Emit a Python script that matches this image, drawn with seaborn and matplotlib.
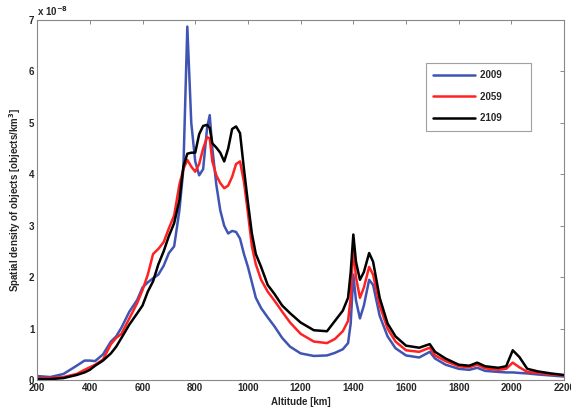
import numpy as np
import pandas as pd
import seaborn as sns
import matplotlib.pyplot as plt

# === Data (spatial density in units of 1e-8 objects/km^3) ===
altitude = [200, 250, 300, 350, 380, 400, 420, 450, 480, 500, 520, 550, 580, 600,
            620, 640, 660, 680, 700, 720, 740, 755, 770, 785, 800, 815, 830, 845,
            855, 865, 880, 895, 910, 925, 940, 955, 970, 985, 1000, 1015, 1030,
            1050, 1075, 1100, 1130, 1160, 1200, 1250, 1300, 1330, 1360, 1380,
            1390, 1400, 1410, 1425, 1440, 1460, 1475, 1500, 1530, 1560, 1600,
            1650, 1690, 1710, 1750, 1800, 1840, 1870, 1900, 1950, 1980, 2005,
            2030, 2060, 2100, 2150, 2200]

density_2009 = [0.08, 0.06, 0.12, 0.28, 0.38, 0.38, 0.37, 0.50, 0.75, 0.85, 1.02,
                1.33, 1.56, 1.80, 1.90, 1.98, 2.05, 2.22, 2.47, 2.60, 3.30, 4.10,
                6.87, 5.00, 4.25, 3.98, 4.10, 4.90, 5.15, 4.50, 3.80, 3.30, 3.00,
                2.85, 2.90, 2.88, 2.75, 2.45, 2.20, 1.90, 1.60, 1.40, 1.22, 1.05,
                0.82, 0.65, 0.52, 0.47, 0.48, 0.53, 0.60, 0.72, 1.10, 2.05, 1.55,
                1.20, 1.45, 1.95, 1.85, 1.25, 0.85, 0.62, 0.48, 0.44, 0.55, 0.42,
                0.30, 0.22, 0.20, 0.24, 0.18, 0.16, 0.15, 0.15, 0.14, 0.13, 0.11,
                0.09, 0.07]

density_2059 = [0.04, 0.04, 0.06, 0.12, 0.20, 0.25, 0.30, 0.40, 0.70, 0.82, 0.90,
                1.20, 1.50, 1.75, 2.05, 2.45, 2.55, 2.68, 2.95, 3.20, 3.80, 4.10,
                4.28, 4.15, 4.05, 4.20, 4.50, 4.72, 4.70, 4.25, 3.98, 3.83, 3.73,
                3.78, 3.95, 4.20, 4.25, 3.85, 3.25, 2.60, 2.25, 1.95, 1.72, 1.55,
                1.33, 1.12, 0.90, 0.75, 0.72, 0.80, 0.95, 1.15, 1.60, 2.60, 2.00,
                1.60, 1.80, 2.20, 2.05, 1.45, 1.00, 0.75, 0.58, 0.55, 0.63, 0.48,
                0.37, 0.27, 0.25, 0.30, 0.23, 0.20, 0.22, 0.34, 0.25, 0.16, 0.14,
                0.11, 0.09]

density_2109 = [0.02, 0.02, 0.04, 0.10, 0.15, 0.20, 0.28, 0.38, 0.52, 0.65, 0.82,
                1.08, 1.30, 1.45, 1.72, 1.92, 2.25, 2.50, 2.80, 3.05, 3.50, 4.15,
                4.40, 4.42, 4.42, 4.78, 4.94, 4.96, 4.90, 4.60, 4.52, 4.42, 4.25,
                4.50, 4.88, 4.93, 4.80, 4.10, 3.45, 2.85, 2.45, 2.20, 1.85, 1.68,
                1.45, 1.30, 1.12, 0.97, 0.95, 1.15, 1.35, 1.60, 2.10, 2.83, 2.30,
                1.95, 2.10, 2.47, 2.30, 1.60, 1.10, 0.85, 0.67, 0.63, 0.70, 0.55,
                0.42, 0.30, 0.28, 0.34, 0.27, 0.24, 0.27, 0.58, 0.45, 0.22, 0.17,
                0.13, 0.10]

years = ["2009", "2059", "2109"]
colors = {"2009": "#4054b4", "2059": "#ff2222", "2109": "#000000"}

df = pd.concat([
    pd.DataFrame({"altitude": altitude, "density": d, "year": y})
    for y, d in zip(years, [density_2009, density_2059, density_2109])
])

# === Plot ===
sns.set_theme(style="white")
plt.rcParams["font.family"] = ["Liberation Sans", "DejaVu Sans"]
plt.rcParams["font.weight"] = "bold"

fig = plt.figure(figsize=(5.71, 4.15), dpi=100)
ax = fig.add_axes([0.065, 0.084, 0.923, 0.868])

sns.lineplot(data=df, x="altitude", y="density", hue="year", palette=colors,
             hue_order=years, linewidth=1.8, ax=ax, sort=False)

ax.set_xlim(200, 2200)
ax.set_ylim(0, 7)
ax.set_xticks(range(200, 2201, 200))
ax.set_yticks(range(0, 8))
ax.tick_params(direction="in", length=3, width=0.6, color="#777777",
               labelsize=7, top=True, right=True, pad=2)
for lab in ax.get_xticklabels() + ax.get_yticklabels():
    lab.set_fontweight("bold")
for sp in ax.spines.values():
    sp.set_color("#888888")
    sp.set_linewidth(0.8)

ax.set_xlabel("Altitude [km]", fontsize=7, fontweight="bold", labelpad=3)
ax.set_ylabel("Spatial density of objects [objects/km$^\\mathbf{3}$]",
              fontsize=7, fontweight="bold", labelpad=4)
ax.text(0.0, 1.005, "x 10$^{-8}$", transform=ax.transAxes, fontsize=7,
        ha="left", va="bottom", fontweight="bold")

# legend: wider box with room on the right, like the reference
handles, labels = ax.get_legend_handles_labels()
labels = [l + "        " for l in labels]
leg = ax.legend(handles, labels, loc="upper left", bbox_to_anchor=(0.738, 0.881),
                frameon=True, fancybox=False, fontsize=7, handlelength=4.3,
                labelspacing=1.2, borderpad=0.75, handletextpad=0.5,
                borderaxespad=0)
leg.get_frame().set_edgecolor("#888888")
leg.get_frame().set_linewidth(0.8)
for t in leg.get_texts():
    t.set_fontweight("bold")

fig.savefig("out.png", dpi=100)
